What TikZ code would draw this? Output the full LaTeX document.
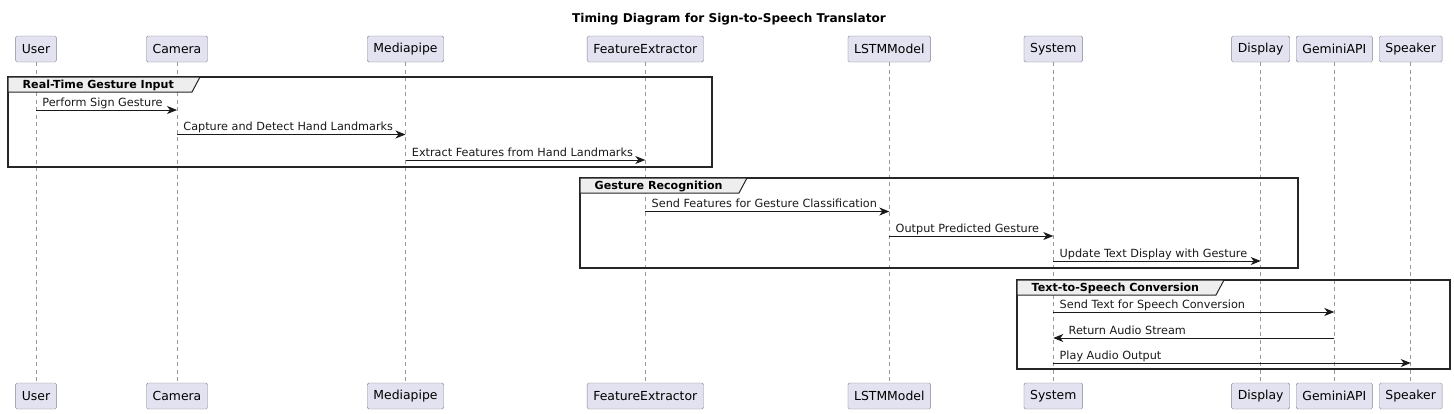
\documentclass[tikz,border=0pt]{standalone}
\usepackage{fontspec}
\setmainfont{DejaVu Sans}
\usetikzlibrary{arrows.meta, positioning}

\definecolor{partfill}{RGB}{226,226,240}
\definecolor{partline}{RGB}{130,130,145}
\definecolor{tabfill}{RGB}{238,238,238}

\begin{document}
\begin{tikzpicture}[x=1pt, y=-1pt,
			partnode/.style={draw=partline, fill=partfill, rounded corners=1.5pt, minimum height=26pt, inner xsep=6.2pt, inner ysep=0pt, font=\fontsize{12.4}{14}\selectfont},
			lifeline/.style={draw=gray!80, dash pattern=on 4pt off 3.5pt, line width=0.6pt},
			grpbox/.style={draw=black!85, line width=1.3pt},
			grptab/.style={draw=black!85, fill=tabfill, line width=1pt},
			grplabel/.style={anchor=base west, inner sep=0pt, font=\fontsize{11.1}{13}\selectfont\bfseries},
			msg/.style={-{Stealth[length=10pt, width=8pt, inset=3pt]}, line width=0.8pt, black!90},
			msglabel/.style={anchor=base west, inner sep=0pt, font=\fontsize{11.25}{13}\selectfont}
			]
			\useasboundingbox (0,0) rectangle (1454,413);

			% Title
			\node[font=\fontsize{12.1}{14}\selectfont\bfseries] (title) at (729,19) {Timing Diagram for Sign-to-Speech Translator};

			% Participants (top)
			\node[partnode] (user) at (36,49) {User};
			\node[partnode] (camera) at (177,49) {Camera};
			\node[partnode] (mediapipe) at (405.5,49) {Mediapipe};
			\node[partnode] (featext) at (645.3,49) {FeatureExtractor};
			\node[partnode] (lstm) at (889.3,49) {LSTMModel};
			\node[partnode] (system) at (1053.3,49) {System};
			\node[partnode] (display) at (1260.7,49) {Display};
			\node[partnode] (gemini) at (1334.3,49) {GeminiAPI};
			\node[partnode] (speaker) at (1410.7,49) {Speaker};

			% Participants (bottom)
			\node[partnode] (userB) at (36,396) {User};
			\node[partnode] (cameraB) at (177,396) {Camera};
			\node[partnode] (mediapipeB) at (405.5,396) {Mediapipe};
			\node[partnode] (featextB) at (645.3,396) {FeatureExtractor};
			\node[partnode] (lstmB) at (889.3,396) {LSTMModel};
			\node[partnode] (systemB) at (1053.3,396) {System};
			\node[partnode] (displayB) at (1260.7,396) {Display};
			\node[partnode] (geminiB) at (1334.3,396) {GeminiAPI};
			\node[partnode] (speakerB) at (1410.7,396) {Speaker};

			% Lifelines
			\draw[lifeline] (user) -- (userB);
			\draw[lifeline] (camera) -- (cameraB);
			\draw[lifeline] (mediapipe) -- (mediapipeB);
			\draw[lifeline] (featext) -- (featextB);
			\draw[lifeline] (lstm) -- (lstmB);
			\draw[lifeline] (system) -- (systemB);
			\draw[lifeline] (display) -- (displayB);
			\draw[lifeline] (gemini) -- (geminiB);
			\draw[lifeline] (speaker) -- (speakerB);

			% Group 1
			\draw[grpbox] (8,77) rectangle (712,167);
			\draw[grptab] (8,77) -- (200,77) -- (192,92) -- (8,92) -- cycle;
			\node[grplabel] (g1) at (22.5,88.5) {Real-Time Gesture Input};

			% Group 2
			\draw[grpbox] (580,178) rectangle (1298,268);
			\draw[grptab] (580,178) -- (747,178) -- (739,193) -- (580,193) -- cycle;
			\node[grplabel] (g2) at (594.5,189.5) {Gesture Recognition};

			% Group 3
			\draw[grpbox] (1017,280) rectangle (1450,369);
			\draw[grptab] (1017,280) -- (1224,280) -- (1216,295) -- (1017,295) -- cycle;
			\node[grplabel] (g3) at (1031.5,291.5) {Text-to-Speech Conversion};

			% Message end points
			\coordinate (m1a) at (user |- 0,110);
			\coordinate (m1b) at (camera |- 0,110);
			\coordinate (m2a) at (camera |- 0,134.5);
			\coordinate (m2b) at (mediapipe |- 0,134.5);
			\coordinate (m3a) at (mediapipe |- 0,160);
			\coordinate (m3b) at (featext |- 0,160);
			\coordinate (m4a) at (featext |- 0,211.5);
			\coordinate (m4b) at (lstm |- 0,211.5);
			\coordinate (m5a) at (lstm |- 0,236);
			\coordinate (m5b) at (system |- 0,236);
			\coordinate (m6a) at (system |- 0,261);
			\coordinate (m6b) at (display |- 0,261);
			\coordinate (m7a) at (system |- 0,312);
			\coordinate (m7b) at (gemini |- 0,312);
			\coordinate (m8a) at (gemini |- 0,338);
			\coordinate (m8b) at (system |- 0,338);
			\coordinate (m9a) at (system |- 0,363);
			\coordinate (m9b) at (speaker |- 0,363);

			% Messages
			\draw[msg] (m1a) -- (m1b) node[pos=0, msglabel, xshift=6pt, yshift=4pt] {Perform Sign Gesture};
			\draw[msg] (m2a) -- (m2b) node[pos=0, msglabel, xshift=6pt, yshift=4pt] {Capture and Detect Hand Landmarks};
			\draw[msg] (m3a) -- (m3b) node[pos=0, msglabel, xshift=6pt, yshift=4pt] {Extract Features from Hand Landmarks};
			\draw[msg] (m4a) -- (m4b) node[pos=0, msglabel, xshift=6pt, yshift=4pt] {Send Features for Gesture Classification};
			\draw[msg] (m5a) -- (m5b) node[pos=0, msglabel, xshift=6pt, yshift=4pt] {Output Predicted Gesture};
			\draw[msg] (m6a) -- (m6b) node[pos=0, msglabel, xshift=6pt, yshift=4pt] {Update Text Display with Gesture};
			\draw[msg] (m7a) -- (m7b) node[pos=0, msglabel, xshift=6pt, yshift=4pt] {Send Text for Speech Conversion};
			\draw[msg] (m8a) -- (m8b) node[pos=1, msglabel, xshift=15pt, yshift=4pt] {Return Audio Stream};
			\draw[msg] (m9a) -- (m9b) node[pos=0, msglabel, xshift=6pt, yshift=4pt] {Play Audio Output};
		\end{tikzpicture}
\end{document}
